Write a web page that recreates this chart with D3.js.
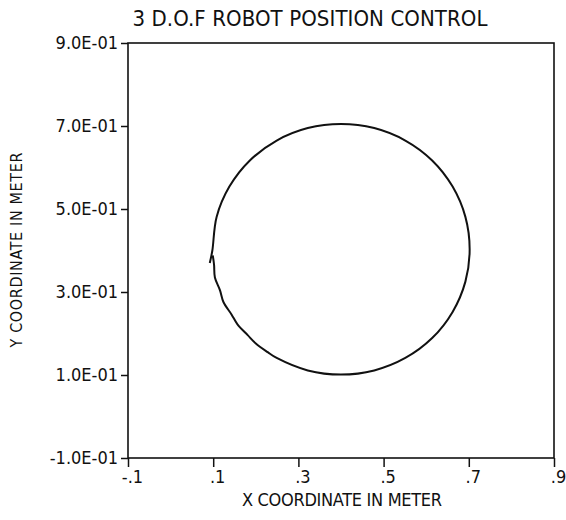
<!DOCTYPE html>
<html>
<head>
<meta charset="utf-8">
<script src="https://cdn.jsdelivr.net/npm/d3@7"></script>
<style>
  body { margin: 0; background: #fff; }
  text { font-family: "DejaVu Sans Condensed", "DejaVu Sans", sans-serif; fill: #111; }
</style>
</head>
<body>
<svg id="chart"></svg>
<script>
// values
const xTicks = [-0.1, 0.1, 0.3, 0.5, 0.7, 0.9];
const xTickLabels = ["-.1", ".1", ".3", ".5", ".7", ".9"];
const yTicks = [-0.1, 0.1, 0.3, 0.5, 0.7, 0.9];
const yTickLabels = ["-1.0E-01", "1.0E-01", "3.0E-01", "5.0E-01", "7.0E-01", "9.0E-01"];

// end-effector trajectory (x, y in meter), starts at the small tail on the left
const pathX = [0.092, 0.098, 0.108, 0.138, 0.186, 0.249, 0.322, 0.400, 0.478, 0.551,
  0.614, 0.662, 0.692, 0.702, 0.692, 0.662, 0.614, 0.551, 0.478, 0.400, 0.322, 0.249,
  0.228, 0.200, 0.181, 0.157, 0.143, 0.124, 0.116, 0.104, 0.102, 0.099];
const pathY = [0.370, 0.400, 0.481, 0.554, 0.617, 0.665, 0.695, 0.705, 0.695, 0.665,
  0.617, 0.554, 0.481, 0.403, 0.325, 0.252, 0.189, 0.141, 0.111, 0.101, 0.111, 0.141,
  0.155, 0.176, 0.196, 0.222, 0.246, 0.276, 0.304, 0.335, 0.366, 0.388];

const width = 566, height = 520;
const margin = { top: 43, left: 128, bottom: 62, right: 12 };
const iwidth = width - margin.left - margin.right;
const iheight = height - margin.top - margin.bottom;

const svg = d3.select("#chart").attr("width", width).attr("height", height);
const g = svg.append("g").attr("transform", `translate(${margin.left},${margin.top})`);

const x = d3.scaleLinear().domain([-0.1, 0.9]).range([0, iwidth]);
const y = d3.scaleLinear().domain([-0.1, 0.9]).range([iheight, 0]);

// frame
g.append("rect")
  .attr("width", iwidth).attr("height", iheight)
  .attr("fill", "none").attr("stroke", "#111").attr("stroke-width", 1.6);

const xAxis = g.append("g")
  .attr("transform", `translate(0,${iheight})`)
  .call(d3.axisBottom(x).tickValues(xTicks)
    .tickFormat((d, i) => xTickLabels[i]).tickSize(9).tickPadding(3));
xAxis.select(".domain").remove();
xAxis.selectAll("line").attr("stroke", "#111").attr("stroke-width", 1.5);
xAxis.selectAll("text").attr("font-size", 18).attr("dx", 4).style("fill", "#111");

const yAxis = g.append("g")
  .call(d3.axisLeft(y).tickValues(yTicks)
    .tickFormat((d, i) => yTickLabels[i]).tickSize(7).tickPadding(3));
yAxis.select(".domain").remove();
yAxis.selectAll("line").attr("stroke", "#111").attr("stroke-width", 1.5);
yAxis.selectAll("text").attr("font-size", 18).style("fill", "#111");

// trajectory
const pts = pathX.map((d, i) => [d, pathY[i]]);
g.append("path")
  .datum(pts)
  .attr("fill", "none")
  .attr("stroke", "#111")
  .attr("stroke-width", 2)
  .attr("stroke-linejoin", "round")
  .attr("d", d3.line().x(d => x(d[0])).y(d => y(d[1])).curve(d3.curveCatmullRom));

// titles
svg.append("text")
  .attr("x", 310).attr("y", 26)
  .attr("text-anchor", "middle")
  .attr("font-size", 22)
  .attr("textLength", 355)
  .text("3 D.O.F ROBOT POSITION CONTROL");

svg.append("text")
  .attr("x", 342).attr("y", 506)
  .attr("text-anchor", "middle")
  .attr("font-size", 18)
  .attr("textLength", 200)
  .text("X COORDINATE IN METER");

svg.append("text")
  .attr("transform", "translate(22,250) rotate(-90)")
  .attr("text-anchor", "middle")
  .attr("font-size", 16)
  .attr("textLength", 195)
  .text("Y COORDINATE IN METER");
</script>
</body>
</html>
